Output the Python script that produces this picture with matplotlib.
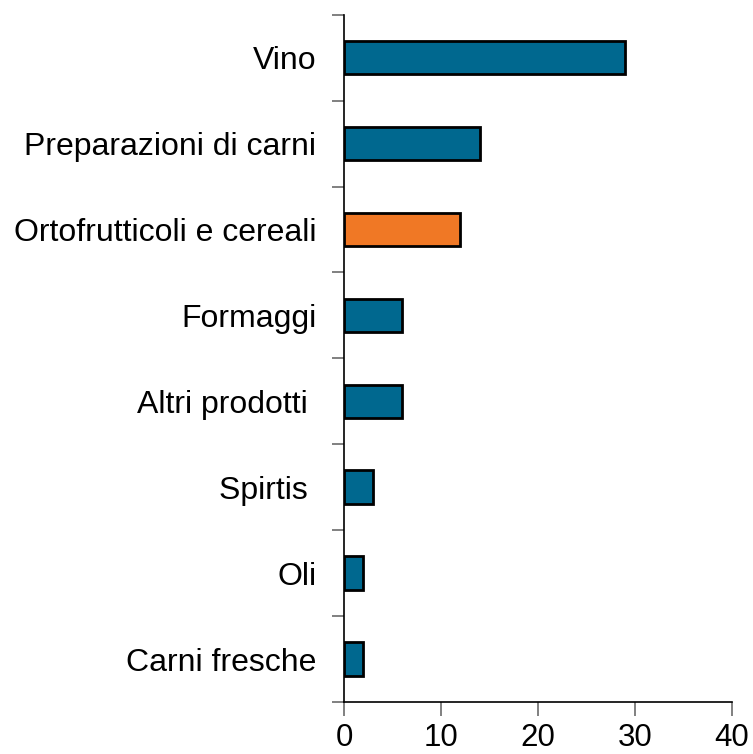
import numpy as np
import matplotlib.pyplot as plt
from matplotlib.ticker import FixedLocator

# dati (dall'alto verso il basso)
categorie = ['Vino', 'Preparazioni di carni', 'Ortofrutticoli e cereali',
             'Formaggi', 'Altri prodotti ', 'Spirtis ', 'Oli', 'Carni fresche']
valori = [29, 14, 12, 6, 6, 3, 2, 2]
colori = ['#00688f', '#00688f', '#f07825', '#00688f',
          '#00688f', '#00688f', '#00688f', '#00688f']
xticks = [0, 10, 20, 30, 40]

plt.rcParams['font.family'] = ['Liberation Sans', 'DejaVu Sans']

fig = plt.figure(figsize=(7.53, 7.54), dpi=100)
ax = fig.add_axes([0.457, 0.069, 0.5147, 0.9115])

yy = np.arange(len(categorie))[::-1]
ax.barh(yy, valori, height=0.39, color=colori, edgecolor='black', linewidth=2)

ax.set_xlim(0, 40)
ax.set_ylim(-0.5, len(categorie) - 0.5)
ax.set_xticks(xticks)
ax.set_yticks(yy)
ax.set_yticklabels(categorie, fontsize=23)
ax.yaxis.set_minor_locator(FixedLocator(np.arange(-0.5, len(categorie), 1.0)))

ax.tick_params(axis='x', labelsize=22.5, length=10, width=1.4, color='#808080', pad=5, direction='out')
ax.tick_params(axis='y', which='major', length=0, pad=20)
ax.tick_params(axis='y', which='minor', length=9, width=1.4, color='#808080', direction='out')

for s in ['top', 'right']:
    ax.spines[s].set_visible(False)
ax.spines['left'].set_linewidth(1.2)
ax.spines['bottom'].set_linewidth(1.2)

fig.savefig('out.png', dpi=100)
